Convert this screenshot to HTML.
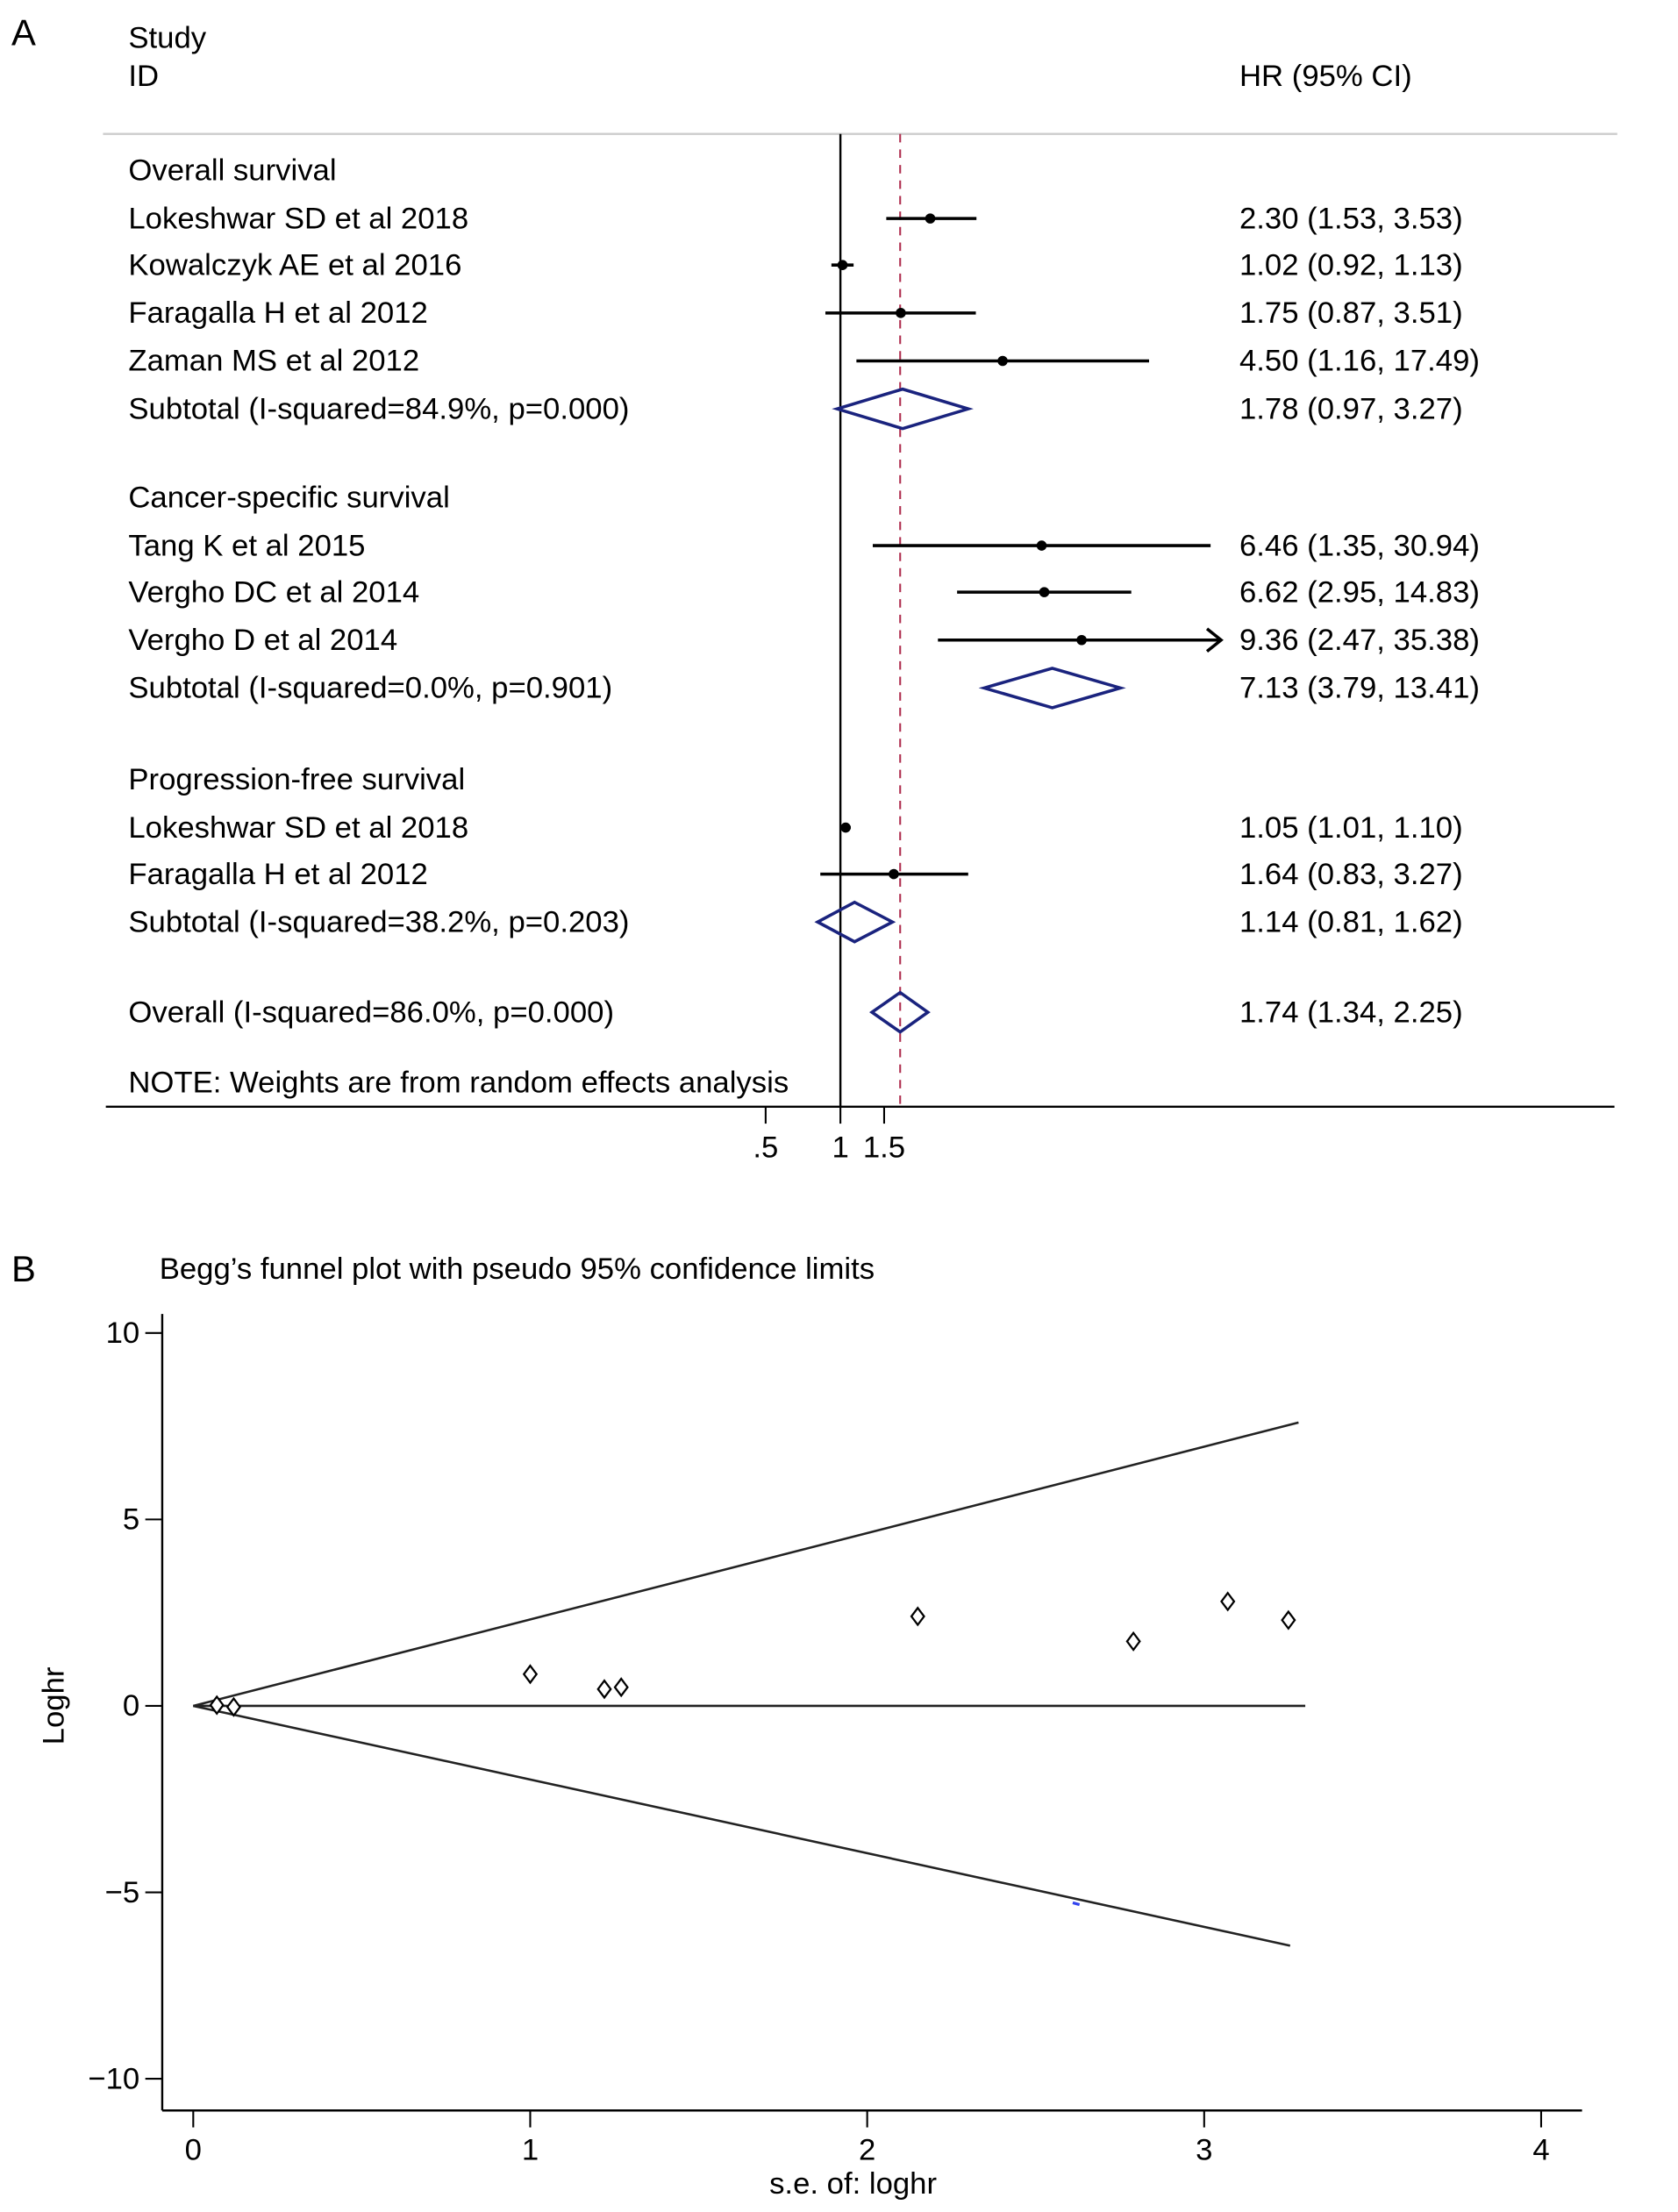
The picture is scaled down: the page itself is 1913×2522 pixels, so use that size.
<!DOCTYPE html>
<html><head><meta charset="utf-8"><style>
html,body{margin:0;padding:0;background:#fff;}
svg{display:block;font-family:"Liberation Sans",sans-serif;}
</style></head><body>
<svg id="fig" width="1913" height="2522" viewBox="0 0 1190 1569" xmlns="http://www.w3.org/2000/svg">
<g id="forest"></g>
<g id="funnel"></g>
</svg>
<script>
// ---------- Forest plot data ----------
const studyLabels = ["Overall survival","Lokeshwar SD et al 2018","Kowalczyk AE et al 2016","Faragalla H et al 2012","Zaman MS et al 2012","Subtotal (I-squared=84.9%, p=0.000)","Cancer-specific survival","Tang K et al 2015","Vergho DC et al 2014","Vergho D et al 2014","Subtotal (I-squared=0.0%, p=0.901)","Progression-free survival","Lokeshwar SD et al 2018","Faragalla H et al 2012","Subtotal (I-squared=38.2%, p=0.203)","Overall (I-squared=86.0%, p=0.000)"];
const rowKinds = ["head","study","study","study","study","sub","head","study","study","study","sub","head","study","study","sub","sub"];
const hrValues = [null,2.30,1.02,1.75,4.50,1.78,null,6.46,6.62,9.36,7.13,null,1.05,1.64,1.14,1.74];
const ciLower = [null,1.53,0.92,0.87,1.16,0.97,null,1.35,2.95,2.47,3.79,null,1.01,0.83,0.81,1.34];
const ciUpper = [null,3.53,1.13,3.51,17.49,3.27,null,30.94,14.83,35.38,13.41,null,1.10,3.27,1.62,2.25];
const rowY = [121,155,188,222,256,290,353,387,420,454,488,553,587,620,654,718];
const xTicks = [0.5,1,1.5];
const xTickLabels = [".5","1","1.5"];
const overallHR = 1.74;

// ---------- Funnel plot data ----------
const seValues = [0.07,0.12,1.0,1.22,1.27,2.15,2.79,3.07,3.25];
const loghrValues = [0.02,-0.03,0.85,0.45,0.5,2.4,1.73,2.8,2.3];
const funnelUpper = [[0,0],[3.28,7.6]];
const funnelLower = [[0,0],[3.255,-6.43]];
const funnelMid = [[0,0],[3.3,0]];
const funnelXTicks = [0,1,2,3,4];
const funnelYTicks = [10,5,0,-5,-10];
const funnelYTickLabels = ["10","5","0","\u22125","\u221210"];

const NS="http://www.w3.org/2000/svg";
const FS=21.6;
function mk(parent,tag,attrs,text){const e=document.createElementNS(NS,tag);for(const k in attrs)e.setAttribute(k,attrs[k]);if(text!==undefined)e.textContent=text;parent.appendChild(e);return e;}

// Forest
const F=document.getElementById('forest');
const fx=v=>596+76.5*Math.log(v);
const FXMAX=866;
let t;
t=mk(F,'text',{x:8,y:32,'font-size':26});t.textContent="A";


t=mk(F,'text',{x:91,y:34,'font-size':FS},"Study");


t=mk(F,'text',{x:91,y:61,'font-size':FS},"ID");


t=mk(F,'text',{x:879,y:61,'font-size':FS},"HR (95% CI)");


t=mk(F,'line',{x1:73,y1:95,x2:1147,y2:95,stroke:'#ccc','stroke-width':1.5});


t=mk(F,'line',{x1:fx(1),y1:95,x2:fx(1),y2:785,stroke:'#000','stroke-width':1.5});


t=mk(F,'line',{x1:fx(overallHR),y1:95,x2:fx(overallHR),y2:785,stroke:'#b03050','stroke-width':1.3,'stroke-dasharray':'6,5'});


t=mk(F,'line',{x1:75,y1:785,x2:1145,y2:785,stroke:'#000','stroke-width':1.5});


xTicks.forEach((v,i)=>{
  const l=mk(F,'line',{x1:fx(v),y1:785,x2:fx(v),y2:797,stroke:'#000','stroke-width':1.3});
  
  
  const tx=mk(F,'text',{x:fx(v),y:821,'font-size':FS,'text-anchor':'middle'},xTickLabels[i]);
  
  
});
studyLabels.forEach((lab,i)=>{
  const y=rowY[i];
  const tx=mk(F,'text',{x:91,y:y+7,'font-size':FS},lab);
  
  
  if(hrValues[i]===null)return;
  const ht=mk(F,'text',{x:879,y:y+7,'font-size':FS},hrValues[i].toFixed(2)+" ("+ciLower[i].toFixed(2)+", "+ciUpper[i].toFixed(2)+")");
  
  
  const x0=fx(ciLower[i]),x1=Math.min(fx(ciUpper[i]),FXMAX),xc=fx(hrValues[i]);
  if(rowKinds[i]==='study'){
    const l=mk(F,'line',{x1:x0,y1:y,x2:x1,y2:y,stroke:'#000','stroke-width':2.2});
    
    
    if(fx(ciUpper[i])>FXMAX){
      const a=mk(F,'path',{d:`M${x1-10},${y-8} L${x1},${y} L${x1-10},${y+8}`,fill:'none',stroke:'#000','stroke-width':2.2});
      
      
    }
    const c=mk(F,'circle',{cx:xc,cy:y,r:3.6,fill:'#000'});
    
    
  } else {
    const d=mk(F,'polygon',{points:`${x0},${y} ${xc},${y-14} ${x1},${y} ${xc},${y+14}`,fill:'none',stroke:'#1a237e','stroke-width':2.2});
    
    
  }
});
t=mk(F,'text',{x:91,y:775,'font-size':FS},"NOTE: Weights are from random effects analysis");



// Funnel
const G=document.getElementById('funnel');
const gx=v=>137+239*v;
const gy=v=>1210-26.45*v;
t=mk(G,'text',{x:8,y:909,'font-size':26},"B");


t=mk(G,'text',{x:113,y:907,'font-size':FS},"Begg\u2019s funnel plot with pseudo 95% confidence limits");


t=mk(G,'line',{x1:115,y1:932,x2:115,y2:1497,stroke:'#000','stroke-width':1.5});


t=mk(G,'line',{x1:115,y1:1497,x2:1122,y2:1497,stroke:'#000','stroke-width':1.5});


funnelXTicks.forEach(v=>{
  const l=mk(G,'line',{x1:gx(v),y1:1497,x2:gx(v),y2:1509,stroke:'#000','stroke-width':1.3});
  
  
  const tx=mk(G,'text',{x:gx(v),y:1532,'font-size':FS,'text-anchor':'middle'},String(v));
  
  
});
funnelYTicks.forEach((v,i)=>{
  const l=mk(G,'line',{x1:103,y1:gy(v),x2:115,y2:gy(v),stroke:'#000','stroke-width':1.3});
  
  
  const tx=mk(G,'text',{x:99,y:gy(v)+7,'font-size':FS,'text-anchor':'end'},funnelYTickLabels[i]);
  
  
});
t=mk(G,'text',{x:0,y:0,'font-size':FS,'text-anchor':'middle',transform:'translate(45,1210) rotate(-90)'},"Loghr");


t=mk(G,'text',{x:605,y:1556,'font-size':FS,'text-anchor':'middle'},"s.e. of: loghr");


[[funnelUpper,'upper-limit-line'],[funnelMid,'pooled-line'],[funnelLower,'lower-limit-line']].forEach(([p,n])=>{
  const l=mk(G,'line',{x1:gx(p[0][0]),y1:gy(p[0][1]),x2:gx(p[1][0]),y2:gy(p[1][1]),stroke:'#222','stroke-width':1.6});
  
  
});
seValues.forEach((s,i)=>{
  const x=gx(s),y=gy(loghrValues[i]);
  const d=mk(G,'polygon',{points:`${x},${y-6} ${x+4.5},${y} ${x},${y+6} ${x-4.5},${y}`,fill:'#fff',stroke:'#000','stroke-width':1.4});
  
  
});
t=mk(G,'line',{x1:gx(2.61),y1:gy(-5.28),x2:gx(2.63),y2:gy(-5.33),stroke:'#3344ee','stroke-width':2});


</script>
</body></html>
